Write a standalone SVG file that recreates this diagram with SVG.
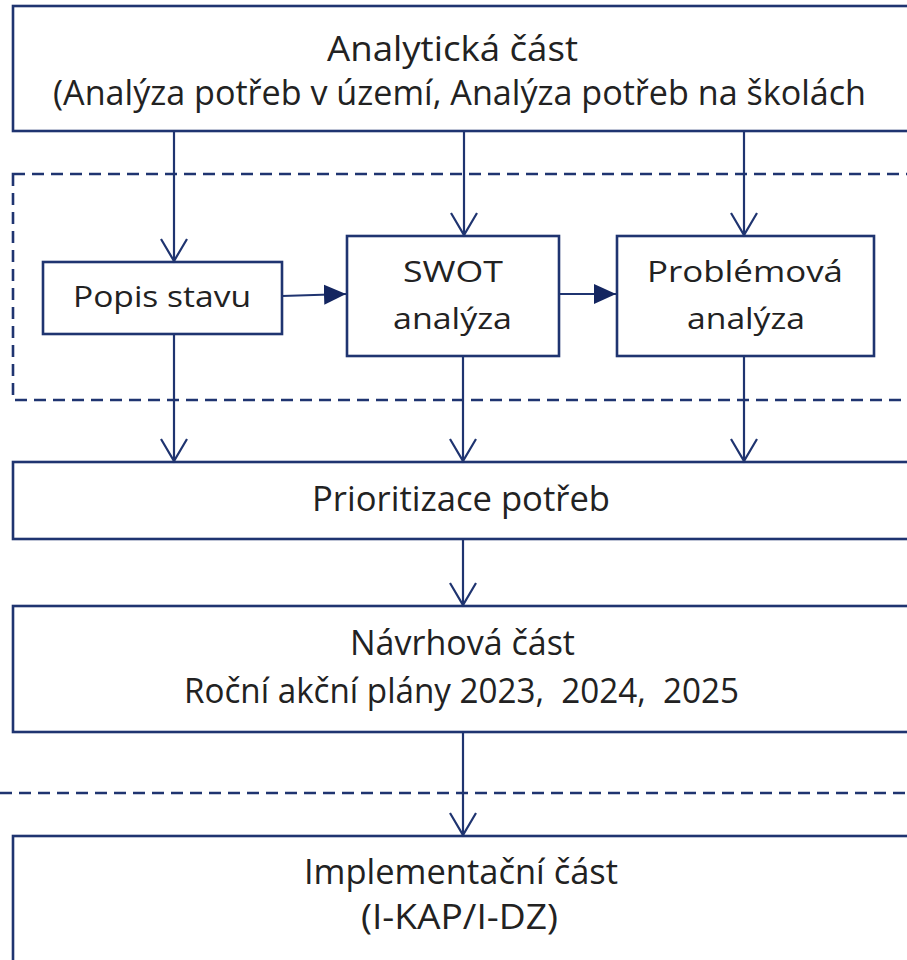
<svg xmlns="http://www.w3.org/2000/svg" width="907" height="960" viewBox="0 0 907 960">
<style>
.box{fill:#fff;stroke:#1f3470;stroke-width:2.6}
.dash{fill:none;stroke:#1f3470;stroke-width:2.6;stroke-dasharray:12 7}
.con{fill:none;stroke:#1f3470;stroke-width:2.2}
.t{font-family:"Open Sans","Noto Sans","Liberation Sans",sans-serif;fill:#222;text-anchor:start}
.big{font-size:35px}
.sm{font-size:30px}
</style>
<defs>
<marker id="v" markerUnits="userSpaceOnUse" markerWidth="30" markerHeight="30" viewBox="0 0 30 30" refX="23" refY="14" orient="auto">
<path d="M1,1 L23,14 L1,27" fill="none" stroke="#1f3470" stroke-width="2.2"/>
</marker>
<marker id="f" markerUnits="userSpaceOnUse" markerWidth="26" markerHeight="24" viewBox="0 0 26 24" refX="22" refY="11" orient="auto">
<path d="M0,1 L22,11 L0,21 z" fill="#142660"/>
</marker>
</defs>

<rect class="dash" x="13" y="174" width="920" height="226"/>
<line class="dash" x1="0" y1="793" x2="907" y2="793"/>

<g id="analyticka">
<rect class="box" x="13" y="6" width="920" height="125"/>
<text class="t big" x="327" y="61" textLength="251" lengthAdjust="spacingAndGlyphs">Analytická část</text>
<text class="t big" x="53" y="105" textLength="813" lengthAdjust="spacingAndGlyphs">(Analýza potřeb v území, Analýza potřeb na školách</text>
</g>

<g id="popis">
<rect class="box" x="43" y="262" width="239" height="72"/>
<text class="t sm" x="73" y="307" textLength="178" lengthAdjust="spacingAndGlyphs">Popis stavu</text>
</g>

<g id="swot">
<rect class="box" x="347" y="236" width="212" height="120"/>
<text class="t sm" x="403" y="282" textLength="100" lengthAdjust="spacingAndGlyphs">SWOT</text>
<text class="t sm" x="393" y="329" textLength="119" lengthAdjust="spacingAndGlyphs">analýza</text>
</g>

<g id="problemova">
<rect class="box" x="617" y="236" width="257" height="120"/>
<text class="t sm" x="647" y="282" textLength="196" lengthAdjust="spacingAndGlyphs">Problémová</text>
<text class="t sm" x="687" y="329" textLength="118" lengthAdjust="spacingAndGlyphs">analýza</text>
</g>

<g id="prioritizace">
<rect class="box" x="13" y="462" width="920" height="77"/>
<text class="t big" x="312" y="511" textLength="298" lengthAdjust="spacingAndGlyphs">Prioritizace potřeb</text>
</g>

<g id="navrhova">
<rect class="box" x="13" y="606" width="920" height="126"/>
<text class="t big" x="350" y="655" textLength="225" lengthAdjust="spacingAndGlyphs">Návrhová část</text>
<text class="t big" x="184" y="703" textLength="555" lengthAdjust="spacingAndGlyphs" xml:space="preserve">Roční akční plány 2023,  2024,  2025</text>
</g>

<g id="implementacni">
<rect class="box" x="13" y="836" width="920" height="140"/>
<text class="t big" x="304" y="884" textLength="314" lengthAdjust="spacingAndGlyphs">Implementační část</text>
<text class="t big" x="361" y="929" textLength="197" lengthAdjust="spacingAndGlyphs">(I-KAP/I-DZ)</text>
</g>

<g id="connectors">
<line class="con" x1="174" y1="131" x2="174" y2="261" marker-end="url(#v)"/>
<line class="con" x1="464" y1="131" x2="464" y2="235" marker-end="url(#v)"/>
<line class="con" x1="744" y1="131" x2="744" y2="235" marker-end="url(#v)"/>
<line class="con" x1="282" y1="296" x2="346" y2="294" marker-end="url(#f)"/>
<line class="con" x1="559" y1="294" x2="616" y2="294" marker-end="url(#f)"/>
<line class="con" x1="174" y1="334" x2="174" y2="461" marker-end="url(#v)"/>
<line class="con" x1="463" y1="356" x2="463" y2="461" marker-end="url(#v)"/>
<line class="con" x1="744" y1="356" x2="744" y2="461" marker-end="url(#v)"/>
<line class="con" x1="463" y1="539" x2="463" y2="605" marker-end="url(#v)"/>
<line class="con" x1="463" y1="732" x2="463" y2="835" marker-end="url(#v)"/>
</g>
</svg>
